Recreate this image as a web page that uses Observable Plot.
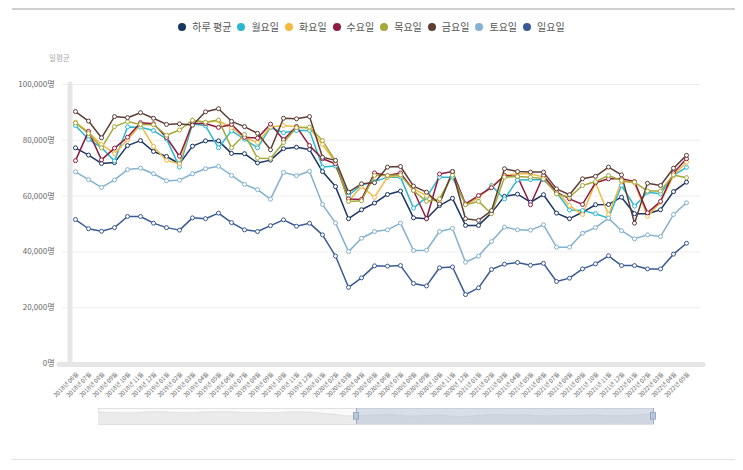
<!DOCTYPE html>
<html>
<head>
<meta charset="utf-8">
<script src="https://cdn.jsdelivr.net/npm/d3@7"></script>
<script src="https://cdn.jsdelivr.net/npm/@observablehq/plot@0.6"></script>
<style>
  body { margin: 0; width: 743px; height: 470px; background: #fff; position: relative; overflow: hidden;
         font-family: "Noto Sans CJK KR", "Noto Sans", sans-serif; }
  #ruleTop { position: absolute; left: 12px; top: 8px; width: 723px; height: 2px; background: #cfcfcf; }
  #ruleBottom { position: absolute; left: 12px; top: 459px; width: 723px; height: 1px; background: #e2e2e2; }
  #legend { position: absolute; top: 20px; left: 0; width: 743px; display: flex; justify-content: center;
            font-size: 10px; color: #555; line-height: 14px; }
  .item { display: flex; align-items: center; margin: 0 3px; }
  .sw { width: 8px; height: 8px; border-radius: 50%; margin-right: 6px; }
  #unit { position: absolute; left: 49px; top: 52px; font-size: 7.5px; color: #aaa; }
  #chart { position: absolute; left: 0; top: 40px; }
  #nav { position: absolute; left: 0; top: 404px; }
</style>
</head>
<body>
<div id="ruleTop"></div>
<div id="legend"></div>
<div id="unit">일평균</div>
<div id="chart"></div>
<div id="nav"></div>
<div id="ruleBottom"></div>
<script>
// Monthly categories (x axis)
const months = [
  "2018년 06월","2018년 07월","2018년 08월","2018년 09월","2018년 10월","2018년 11월","2018년 12월",
  "2019년 01월","2019년 02월","2019년 03월","2019년 04월","2019년 05월","2019년 06월","2019년 07월",
  "2019년 08월","2019년 09월","2019년 10월","2019년 11월","2019년 12월",
  "2020년 01월","2020년 02월","2020년 03월","2020년 04월","2020년 05월","2020년 06월","2020년 07월",
  "2020년 08월","2020년 09월","2020년 10월","2020년 11월","2020년 12월",
  "2021년 01월","2021년 02월","2021년 03월","2021년 04월","2021년 05월","2021년 06월","2021년 07월",
  "2021년 08월","2021년 09월","2021년 10월","2021년 11월","2021년 12월",
  "2022년 01월","2022년 02월","2022년 03월","2022년 04월","2022년 05월"
];

// Daily riders, in thousands of people
const dailyAvg = [77.3,74.7,71.7,72.0,78.1,79.9,76.0,74.2,71.6,77.9,79.8,79.8,75.3,75.2,71.9,72.9,77.0,77.5,76.7,
  68.8,63.4,51.9,55.1,57.5,60.6,61.8,52.2,51.9,56.6,59.2,49.5,49.5,54.0,59.9,60.7,57.8,60.5,53.9,51.9,54.2,56.9,57.0,59.6,53.7,53.7,55.1,61.6,65.0];
const monday = [85.3,80.3,77.4,72.6,84.8,84.7,83.5,80.5,70.4,85.9,85.2,77.3,83.4,80.4,77.3,84.6,82.7,83.5,83.5,
  70.4,70.8,60.2,64.0,65.2,66.8,66.8,55.7,59.6,66.8,66.8,57.0,59.5,63.8,59.0,65.8,65.9,65.9,61.4,55.0,54.8,53.7,52.1,63.8,56.4,61.4,60.8,67.4,70.3];
const tuesday = [86.5,82.9,78.5,75.2,80.2,85.5,77.8,72.8,71.6,87.2,86.5,87.0,84.5,81.0,79.2,84.8,85.3,84.9,84.3,
  78.5,72.0,58.1,63.5,59.6,66.8,67.4,62.6,60.2,58.1,68.0,57.0,59.5,63.3,67.4,68.0,68.0,66.8,61.8,56.6,53.4,64.8,53.4,65.2,64.8,52.8,57.8,67.4,72.2];
const wednesday = [72.7,83.2,73.0,77.2,81.1,86.3,85.9,81.0,74.3,86.0,86.0,84.6,85.7,81.1,80.8,85.8,80.2,84.9,78.1,
  73.4,71.6,59.0,58.8,68.3,67.4,68.3,62.0,51.9,67.9,68.8,57.2,60.2,63.0,67.4,67.0,56.9,67.4,61.4,59.0,57.0,64.8,66.2,66.2,65.2,54.0,58.1,68.3,73.4];
const thursday = [86.2,82.5,77.3,84.9,86.7,85.7,85.6,81.8,83.7,87.2,86.5,87.3,77.3,82.1,73.6,73.5,79.2,84.5,84.7,
  79.9,72.5,58.1,58.3,67.4,67.4,67.6,62.0,58.1,59.0,67.5,56.9,58.1,53.7,66.8,67.0,66.8,66.2,60.8,59.6,63.8,65.2,67.4,65.6,65.0,61.8,61.8,67.6,66.6];
const friday = [90.3,86.9,80.9,88.5,88.1,89.9,87.9,85.7,85.9,85.4,90.2,91.3,86.8,84.9,82.5,76.6,87.9,87.7,88.5,
  73.9,72.8,61.4,64.4,64.8,70.4,70.6,63.6,61.4,57.2,68.8,51.9,51.3,54.8,69.8,68.8,68.6,68.6,62.6,60.5,66.2,67.1,70.4,67.6,50.3,64.6,63.8,70.0,74.6];
const saturday = [68.7,65.9,63.1,65.8,69.5,70.0,68.0,65.5,65.7,68.0,69.8,70.7,67.4,64.2,62.3,58.9,68.5,67.3,68.9,
  57.0,50.4,40.1,44.9,47.3,47.9,50.3,40.5,40.6,47.3,48.4,36.3,38.5,43.7,48.9,47.9,47.8,49.7,41.7,41.7,46.7,48.7,52.1,47.6,44.7,46.1,45.5,53.4,57.6];
const sunday = [51.6,48.3,47.4,48.7,52.7,52.7,50.3,48.7,47.8,52.2,51.9,53.9,50.5,47.9,47.3,49.4,51.5,49.2,50.3,
  46.1,38.5,27.3,30.7,35.0,34.9,35.1,28.7,27.8,34.3,34.6,24.7,27.1,33.7,35.6,36.2,35.2,35.9,29.4,30.6,33.9,35.7,38.6,35.1,35.1,33.9,33.9,39.2,43.1];

const seriesNames = ["하루 평균","월요일","화요일","수요일","목요일","금요일","토요일","일요일"];
const seriesValues = [dailyAvg, monday, tuesday, wednesday, thursday, friday, saturday, sunday];
const seriesColors = ["#1b3563","#2bb8cf","#f3b941","#8f1b40","#a4a93a","#5e3d34","#84b1cf","#395a93"];
const yTicks = [0, 20000, 40000, 60000, 80000, 100000];
// navigator brush extent, in month-index units
const brushRange = [21.85, 47];

const table = [];
seriesNames.forEach((name, s) => {
  seriesValues[s].forEach((v, i) => table.push({series: name, month: months[i], idx: i, value: v * 1000}));
});

// legend
const legend = document.getElementById("legend");
seriesNames.forEach((name, s) => {
  const it = document.createElement("div");
  it.className = "item";
  it.innerHTML = `<span class="sw" style="background:${seriesColors[s]}"></span><span>${name}</span>`;
  legend.appendChild(it);
});

const font = '"Noto Sans CJK KR", "Noto Sans", sans-serif';

const chart = Plot.plot({
  width: 743,
  height: 365,
  marginTop: 44,
  marginBottom: 42,
  marginLeft: 65,
  marginRight: 48,
  x: {type: "point", domain: months, padding: 0},
  y: {domain: [0, 100000]},
  color: {domain: seriesNames, range: seriesColors},
  style: {fontFamily: font, color: "#666", background: "transparent", overflow: "visible"},
  marks: [
    Plot.ruleY(yTicks, {stroke: "#ededed", insetLeft: -3, insetRight: -5}),
    Plot.ruleX([months[0]], {y1: () => 0, y2: () => 100000, dx: -5.5, stroke: "#e6e6e6", strokeWidth: 5, strokeLinecap: "round"}),
    Plot.ruleY([0], {dy: 1, stroke: "#e6e6e6", strokeWidth: 5, insetLeft: -6, insetRight: -8, strokeLinecap: "round"}),
    Plot.axisY({ticks: yTicks, tickSize: 0, tickPadding: 11, fontSize: 8,
                tickFormat: d => d3.format(",")(d) + "명", label: null}),
    Plot.axisX({tickSize: 0, tickRotate: -45, tickPadding: 10, fontSize: 6, dx: 2, label: null}),
    Plot.line(table, {x: "month", y: "value", z: "series", stroke: "series", strokeWidth: 1.5}),
    Plot.dot(table, {x: "month", y: "value", stroke: "series", fill: "white", r: 2, strokeWidth: 1})
  ]
});
document.getElementById("chart").appendChild(chart);

// navigator strip under the chart
const avgRows = dailyAvg.map((v, i) => ({idx: i, value: v * 1000}));
const nav = Plot.plot({
  width: 743,
  height: 24,
  marginTop: 4,
  marginBottom: 4,
  marginLeft: 98,
  marginRight: 90,
  x: {domain: [0, 47], axis: null},
  y: {domain: [0, 100000], axis: null},
  style: {background: "transparent", overflow: "visible"},
  marks: [
    Plot.frame({fill: "#fafafa", stroke: "#e0e0e0"}),
    Plot.areaY(avgRows, {x: "idx", y: "value", fill: "#ebebeb"}),
    Plot.lineY(avgRows, {x: "idx", y: "value", stroke: "#e2e2e2", strokeWidth: 1}),
    Plot.rect([brushRange], {x1: d => d[0], x2: d => d[1], y1: () => 0, y2: () => 100000,
                             fill: "#aebcd2", fillOpacity: 0.45}),
    Plot.ruleX(brushRange, {y1: () => 0, y2: () => 100000, stroke: "#9aabc5", strokeWidth: 1}),
    Plot.rect(brushRange, {x1: d => d - 0.22, x2: d => d + 0.22, y1: () => 30000, y2: () => 72000,
                           fill: "#b9c6da", stroke: "#8fa1bd", strokeWidth: 0.8})
  ]
});
document.getElementById("nav").appendChild(nav);
</script>
</body>
</html>
